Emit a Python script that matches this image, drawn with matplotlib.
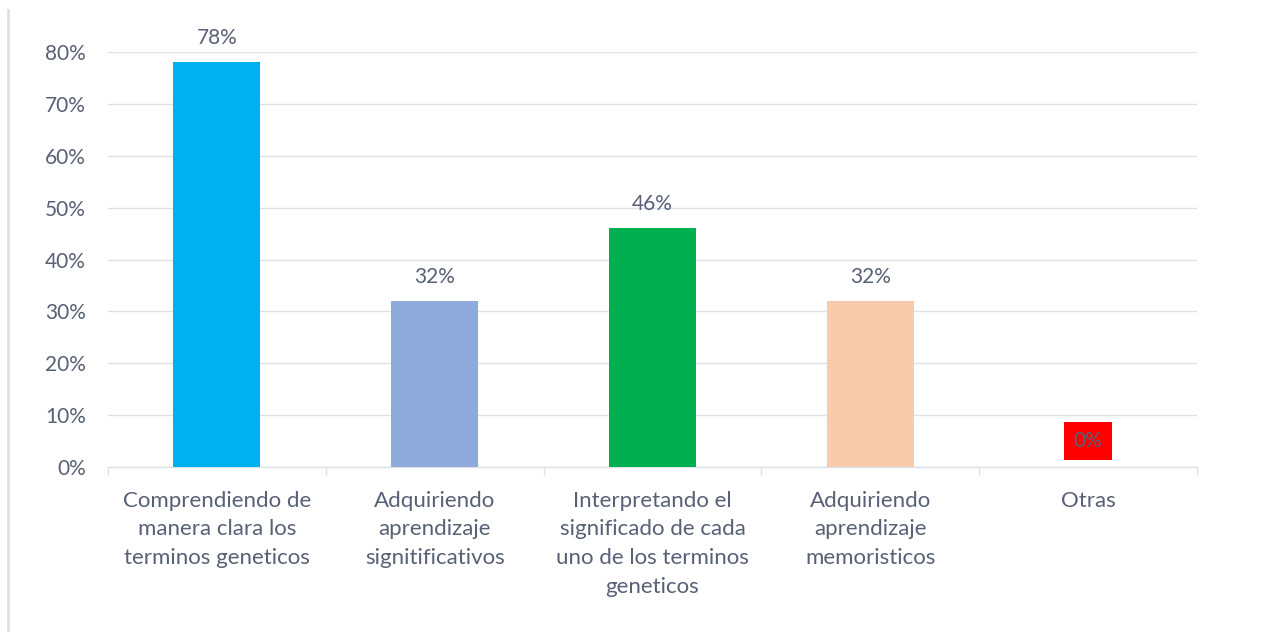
import matplotlib.pyplot as plt
import numpy as np
from matplotlib.lines import Line2D

# datos del grafico
categorias = ["Comprendiendo de\nmanera clara los\nterminos geneticos",
              "Adquiriendo\naprendizaje\nsignitificativos",
              "Interpretando el\nsignificado de cada\nuno de los terminos\ngeneticos",
              "Adquiriendo\naprendizaje\nmemoristicos",
              "Otras"]
valores = [0.78, 0.32, 0.46, 0.32, 0.0]
colores = ["#00b0f0", "#8eaadb", "#00b050", "#f8cbad", "#ff0000"]

texto = "#576075"
grid = "#dde1e8"

plt.rcParams['font.family'] = ['Lato', 'DejaVu Sans']

fig = plt.figure(figsize=(12.64, 6.32), dpi=100)
ax = fig.add_axes([108/1264, 1 - 467/632, (1197-108)/1264, (467-52)/632])

x = np.arange(len(categorias))
ax.bar(x, valores, width=0.4, color=colores, zorder=3)

# etiquetas de valor
for i, v in enumerate(valores):
    if v == 0:
        ax.annotate(f"{v*100:.0f}%", (i, v), xytext=(0, 26), textcoords="offset pixels",
                    ha="center", va="center", fontsize=15, color=texto,
                    bbox=dict(boxstyle="square,pad=0.45", fc="#ff0000", ec="none"))
    else:
        ax.annotate(f"{v*100:.0f}%", (i, v), xytext=(0, 24), textcoords="offset pixels",
                    ha="center", va="center", fontsize=15, color=texto)

ax.set_xlim(-0.5, len(categorias) - 0.5)
ax.set_ylim(0, 0.8)
ax.set_yticks(np.arange(0, 0.81, 0.1))
ax.set_yticklabels([f"{t*100:.0f}%" for t in np.arange(0, 0.81, 0.1)])
ax.yaxis.grid(True, color=grid, linewidth=1, zorder=0)
ax.tick_params(axis="y", length=0, pad=16, labelsize=15, labelcolor=texto)

ax.set_xticks(x)
ax.set_xticklabels(categorias, linespacing=1.55)
ax.tick_params(axis="x", length=0, pad=17, labelsize=16, labelcolor=texto)
# marcas entre categorias (estilo excel)
ax.set_xticks(np.arange(-0.5, len(categorias), 1), minor=True)
ax.tick_params(axis="x", which="minor", length=6, color=grid, width=1)

for s in ["top", "right", "left"]:
    ax.spines[s].set_visible(False)
ax.spines["bottom"].set_color(grid)
ax.spines["bottom"].set_linewidth(1)

# borde izquierdo del cuadro
fig.add_artist(Line2D([7.5/1264, 7.5/1264], [0, 1 - 10/632], color="#dde2ea", linewidth=2))

fig.savefig("out.png", dpi=100, facecolor="white")
